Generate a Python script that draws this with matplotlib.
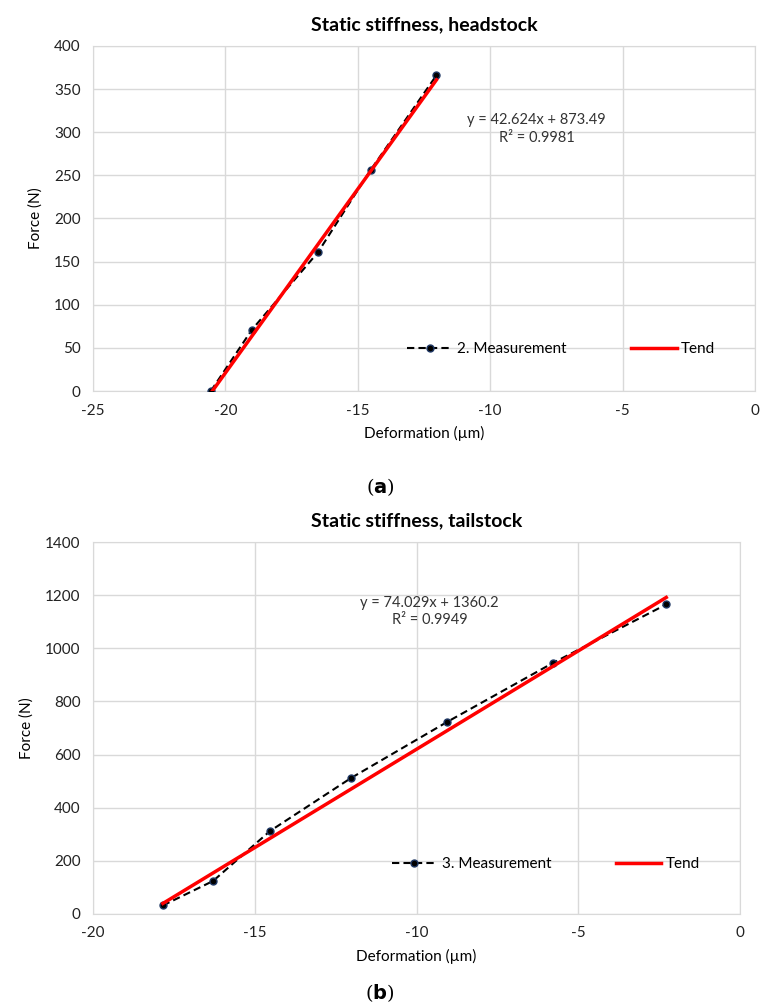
import numpy as np
import matplotlib.pyplot as plt

# headstock, 2. measurement
head_x = [-20.55, -19.0, -16.5, -14.52, -12.03]
head_y = [0, 71, 161, 256, 366]
head_k, head_b, head_r2 = 42.624, 873.49, 0.9981

# tailstock, 3. measurement
tail_x = [-17.84, -16.29, -14.53, -12.02, -9.05, -5.78, -2.28]
tail_y = [32, 124, 312, 512, 723, 945, 1165]
tail_k, tail_b, tail_r2 = 74.029, 1360.2, 0.9949

plt.rcParams['font.family'] = ['Lato', 'DejaVu Sans']
plt.rcParams['axes.unicode_minus'] = False
grid_c = '#d9d9d9'

fig = plt.figure(figsize=(7.6, 10.08), dpi=100)


def panel(rect, xs, ys, k, b, r2, meas_label, title, xlim, ylim, ystep, eq_xy, leg_anchor):
    ax = fig.add_axes(rect)
    ax.plot(xs, ys, ls=(0, (3.5, 2)), color='black', lw=1.5, marker='o', ms=5,
            mfc='black', mec='#1f3864', label=meas_label, zorder=3)
    tx = np.array([min(xs), max(xs)])
    ax.plot(tx, k * tx + b, color='red', lw=2.5, label='Tend', zorder=4)
    ax.set_xlim(*xlim)
    ax.set_ylim(*ylim)
    ax.set_xticks(np.arange(xlim[0], xlim[1] + 1, 5))
    ax.set_yticks(np.arange(ylim[0], ylim[1] + 1, ystep))
    ax.grid(True, color=grid_c, lw=1)
    ax.set_axisbelow(True)
    for s in ax.spines.values():
        s.set_color(grid_c)
    ax.tick_params(length=0, labelsize=11, colors='#222222', pad=9)
    ax.set_xlabel('Deformation (µm)', fontsize=11, labelpad=6)
    ax.set_ylabel('Force (N)', fontsize=11, labelpad=8)
    ax.set_title(title, fontsize=14, fontweight='bold', pad=11)
    ax.text(eq_xy[0], eq_xy[1], f'y = {k}x + {b}\nR² = {r2}', transform=ax.transAxes,
            ha='center', va='top', fontsize=10.5, linespacing=1.3, color='#333333')
    ax.legend(loc='center', bbox_to_anchor=leg_anchor, ncol=2, frameon=False,
              fontsize=11, handlelength=3, columnspacing=4.2, handletextpad=0.3)
    return ax


panel([0.1224, 0.6121, 0.871, 0.3423], head_x, head_y, head_k, head_b, head_r2,
      '2. Measurement', 'Static stiffness, headstock', (-25, 0), (0, 400), 50,
      (0.67, 0.805), (0.707, 0.122))

panel([0.1224, 0.0933, 0.8513, 0.369], tail_x, tail_y, tail_k, tail_b, tail_r2,
      '3. Measurement', 'Static stiffness, tailstock', (-20, 0), (0, 1400), 200,
      (0.52, 0.855), (0.70, 0.134))

fig.text(0.5, 1 - 487 / 1008, r'($\mathbf{a}$)', ha='center', va='center',
         fontsize=14, family='DejaVu Serif')
fig.text(0.5, 1 - 993 / 1008, r'($\mathbf{b}$)', ha='center', va='center',
         fontsize=14, family='DejaVu Serif')

fig.savefig('out.png', dpi=100, facecolor='white')
